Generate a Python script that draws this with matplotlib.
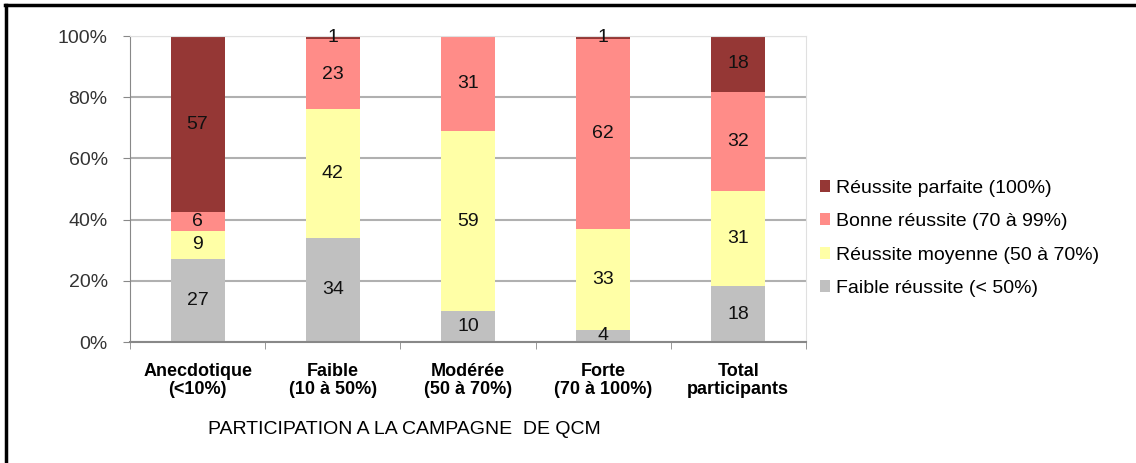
import matplotlib.pyplot as plt
import numpy as np
from matplotlib.lines import Line2D
from matplotlib.patches import Patch

plt.rcParams['font.family'] = ['Liberation Sans', 'DejaVu Sans']

# categories and series (counts shown in the bars)
categories = ["Anecdotique\n(<10%)", "Faible\n(10 à 50%)", "Modérée\n(50 à 70%)",
              "Forte\n(70 à 100%)", "Total\nparticipants"]
faible = [27, 34, 10, 4, 18]
moyenne = [9, 42, 59, 33, 31]
bonne = [6, 23, 31, 62, 32]
parfaite = [57, 1, 0, 1, 18]

series = [faible, moyenne, bonne, parfaite]
names = ["Faible réussite (< 50%)", "Réussite moyenne (50 à 70%)",
         "Bonne réussite (70 à 99%)", "Réussite parfaite (100%)"]
colors = ["#C0C0C0", "#FFFFA6", "#FF8C88", "#953735"]

data = np.array(series, dtype=float)
pct = data / data.sum(axis=0) * 100

fig = plt.figure(figsize=(11.36, 4.63), dpi=100)
ax = fig.add_axes([0.1144, 0.2613, 0.595, 0.6609])

x = np.arange(len(categories))
bottom = np.zeros(len(categories))
for i in range(len(series)):
    ax.bar(x, pct[i], bottom=bottom, width=0.4, color=colors[i], zorder=2)
    for j in range(len(categories)):
        if data[i][j] > 0:
            ax.text(x[j], bottom[j] + pct[i][j] / 2, str(int(data[i][j])),
                    ha="center", va="center", fontsize=14, color="#111111", zorder=3)
    bottom += pct[i]

ax.set_xlim(-0.5, len(categories) - 0.5)
ax.set_ylim(0, 100)
ax.set_yticks(np.arange(0, 101, 20))
ax.set_yticklabels([f"{v}%" for v in range(0, 101, 20)], fontsize=14, color="#333333")
ax.yaxis.grid(True, color="#B0B0B0", linewidth=1.5, zorder=0)
ax.set_axisbelow(True)

ax.set_xticks(x)
ax.set_xticklabels(categories, fontsize=13, fontweight="bold", linespacing=1.1)
ax.tick_params(axis="x", length=0, pad=15)
ax.tick_params(axis="y", length=5, color="#888888", pad=11)
# tick marks between categories
ax.set_xticks(np.arange(-0.5, len(categories), 1), minor=True)
ax.tick_params(axis="x", which="minor", length=5, color="#888888")

for s in ["top", "right"]:
    ax.spines[s].set_color("#E0E0E0")
ax.spines["left"].set_color("#888888")
ax.spines["bottom"].set_color("#888888")
ax.spines["bottom"].set_linewidth(1.5)

fig.text(0.3556, 0.0713, "PARTICIPATION A LA CAMPAGNE  DE QCM", fontsize=14,
         ha="center", va="center")

handles = [Patch(facecolor=colors[i], edgecolor="none") for i in range(3, -1, -1)]
labels = [names[i] for i in range(3, -1, -1)]
fig.legend(handles, labels, loc="upper left", bbox_to_anchor=(0.706, 0.65),
           frameon=False, fontsize=14, handlelength=0.55, handleheight=0.55,
           handletextpad=0.3, labelspacing=0.85)

# outer frame lines (left and top)
fig.add_artist(Line2D([0.0055, 0.0055], [0, 0.99], color="black", linewidth=2.5,
                      transform=fig.transFigure))
fig.add_artist(Line2D([0.004, 1.0], [0.99, 0.99], color="black", linewidth=2.5,
                      transform=fig.transFigure))

fig.savefig("out.png", dpi=100)
